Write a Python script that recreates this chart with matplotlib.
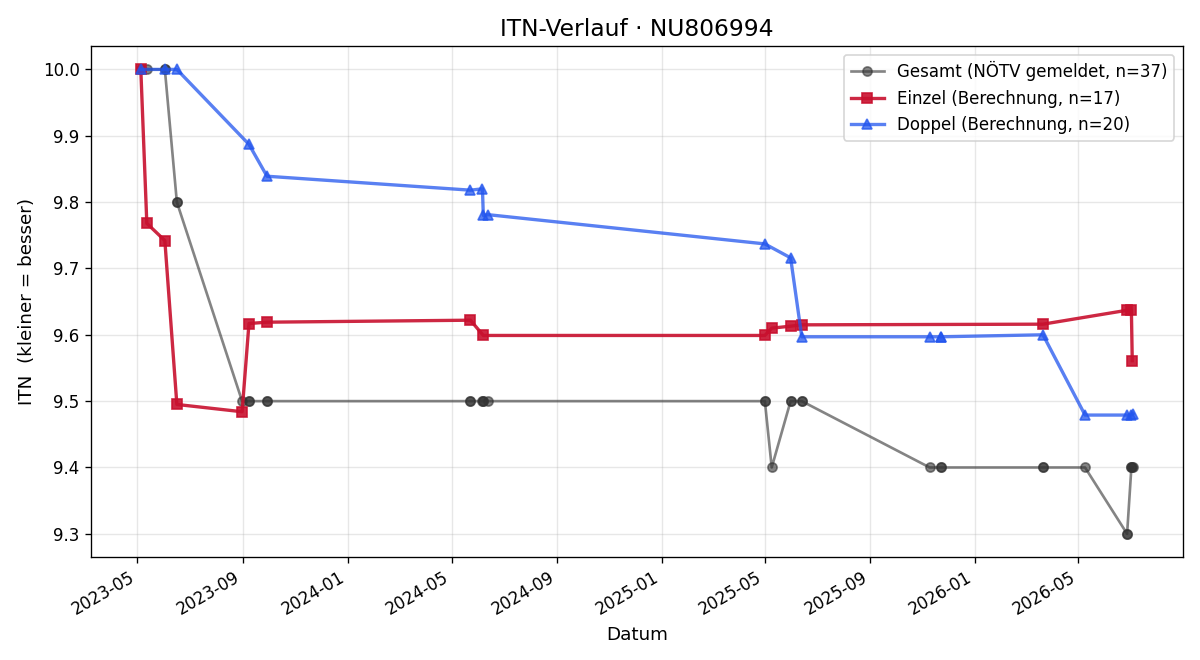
import matplotlib
matplotlib.use("Agg")
import matplotlib.pyplot as plt
import matplotlib.dates as mdates
import pandas as pd

einzel_dates = ["2023-05-05", "2023-05-12", "2023-06-02", "2023-06-16", "2023-08-31",
                "2023-09-08", "2023-09-29", "2024-05-23", "2024-06-07", "2025-05-01",
                "2025-05-09", "2025-05-31", "2025-06-13", "2026-03-21", "2026-06-27",
                "2026-07-02", "2026-07-03"]
einzel_itn = [10.0, 9.768, 9.742, 9.495, 9.484, 9.617, 9.619, 9.622, 9.599, 9.599,
              9.610, 9.613, 9.615, 9.616, 9.637, 9.637, 9.561]
einzel_ges = [10.0, 10.0, 10.0, 9.8, 9.5, 9.5, 9.5, 9.5, 9.5, 9.5,
              9.4, 9.5, 9.5, 9.4, 9.3, 9.4, 9.4]

doppel_dates = ["2023-05-05", "2023-06-02", "2023-06-16", "2023-09-08", "2023-09-29",
                "2024-05-23", "2024-06-06", "2024-06-07", "2024-06-13", "2025-05-01",
                "2025-05-31", "2025-06-13", "2025-11-09", "2025-11-22", "2025-11-22",
                "2026-03-21", "2026-05-09", "2026-06-27", "2026-07-02", "2026-07-04"]
doppel_itn = [10.0, 10.0, 10.0, 9.887, 9.839, 9.818, 9.820, 9.780, 9.781, 9.737,
              9.716, 9.597, 9.597, 9.597, 9.597, 9.600, 9.479, 9.479, 9.479, 9.481]
doppel_ges = [10.0, 10.0, 9.8, 9.5, 9.5, 9.5, 9.5, 9.5, 9.5, 9.5,
              9.5, 9.5, 9.4, 9.4, 9.4, 9.4, 9.4, 9.3, 9.4, 9.4]

e = pd.DataFrame({"date": pd.to_datetime(einzel_dates), "itn": einzel_itn, "ges": einzel_ges, "k": 0})
d = pd.DataFrame({"date": pd.to_datetime(doppel_dates), "itn": doppel_itn, "ges": doppel_ges, "k": 1})
g = pd.concat([e, d]).sort_values(["date", "k"], kind="stable")

fig, ax = plt.subplots(figsize=(10, 5.5), dpi=120)
ax.plot(g["date"], g["ges"], "-o", color="#333333", alpha=0.6, lw=1.6, ms=5.5,
        label=f"Gesamt (NÖTV gemeldet, n={len(g)})", zorder=2)
ax.plot(e["date"], e["itn"], "-s", color="#C8102E", alpha=0.9, lw=2, ms=6.5,
        label=f"Einzel (Berechnung, n={len(e)})", zorder=3)
ax.plot(d["date"], d["itn"], "-^", color="#2255EE", alpha=0.75, lw=2, ms=6.5,
        label=f"Doppel (Berechnung, n={len(d)})", zorder=4)

ax.set_title("ITN-Verlauf · NU806994", fontsize=14)
ax.set_xlabel("Datum", fontsize=11)
ax.set_ylabel("ITN  (kleiner = besser)", fontsize=11)
ax.xaxis.set_major_locator(mdates.MonthLocator(bymonth=[1, 5, 9]))
ax.xaxis.set_major_formatter(mdates.DateFormatter("%Y-%m"))
ax.yaxis.set_major_formatter(matplotlib.ticker.FormatStrFormatter("%.1f"))
ax.grid(True, alpha=0.3)
ax.legend(loc="upper right", fontsize=10)
fig.autofmt_xdate()
fig.subplots_adjust(left=0.076, right=0.9856, top=0.930, bottom=0.156)
fig.savefig("out.png")
